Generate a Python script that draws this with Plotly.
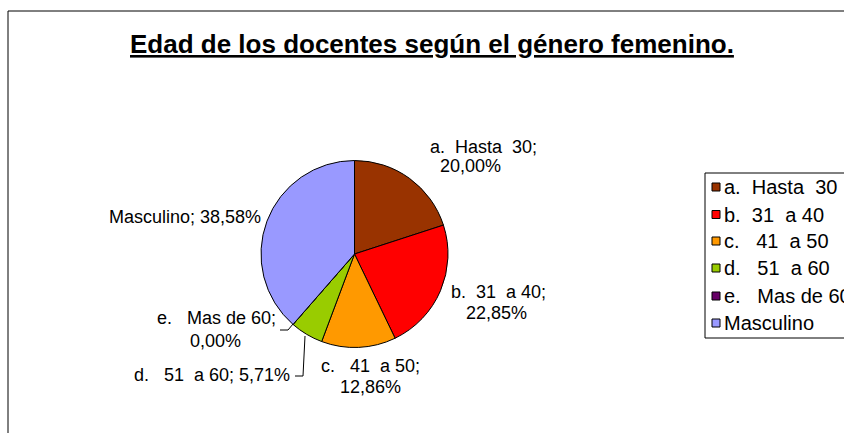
import plotly.graph_objects as go

W, H = 844, 433

# ---- data ----
labels = ["a.\u00a0 Hasta\u00a0 30", "b.\u00a0 31\u00a0 a 40", "c.\u00a0\u00a0 41\u00a0 a 50",
          "d.\u00a0\u00a0 51\u00a0 a 60", "e.\u00a0\u00a0 Mas de 60", "Masculino"]
values = [20.00, 22.85, 12.86, 5.71, 0.00, 38.58]
colors = ["#993300", "#FF0000", "#FF9900", "#99CC00", "#660066", "#9999FF"]
title_text = "Edad de los docentes según el género femenino."

FONT = "Liberation Sans, Arial, sans-serif"


def px(x):
    return x / W


def py(y):
    return 1 - y / H


def pct(v):
    return f"{v:.2f}".replace(".", ",") + "%"


cx, cy, r = 354.5, 254, 93.5

fig = go.Figure()
fig.add_trace(go.Pie(
    labels=labels, values=values, sort=False, direction="clockwise", rotation=0,
    marker=dict(colors=colors, line=dict(color="black", width=1)),
    textinfo="none", showlegend=False,
    domain=dict(x=[px(cx - r), px(cx + r)], y=[py(cy + r), py(cy - r)]),
))

annotations = []
shapes = []

# title
annotations.append(dict(text="<b><u>" + title_text + "</u></b>", x=px(432), y=py(44),
                        xref="paper", yref="paper", showarrow=False, xanchor="center",
                        yanchor="middle", font=dict(family=FONT, size=26, color="black")))

# data labels: (lines, centers)
label_specs = [
    (0, [(labels[0] + ";", 483, 146.5), (pct(values[0]), 470.5, 166)]),
    (1, [(labels[1] + ";", 498.5, 292), (pct(values[1]), 496.5, 313)]),
    (2, [(labels[2] + ";", 370, 366), (pct(values[2]), 370, 387)]),
    (3, [(labels[3] + "; " + pct(values[3]), 211.5, 375)]),
    (4, [(labels[4] + ";", 216.5, 318), (pct(values[4]), 216, 341)]),
    (5, [(labels[5] + "; " + pct(values[5]), 185, 217)]),
]
for i, lines in label_specs:
    for t, x, y in lines:
        annotations.append(dict(text=t, x=px(x), y=py(y), xref="paper", yref="paper",
                                showarrow=False, xanchor="center", yanchor="middle",
                                font=dict(family=FONT, size=18, color="black")))

# leader lines
shapes.append(dict(type="path", xref="paper", yref="paper",
                   path=f"M {px(305)} {py(336)} L {px(303)} {py(376)} L {px(295)} {py(376)}",
                   line=dict(color="black", width=1)))
shapes.append(dict(type="path", xref="paper", yref="paper",
                   path=f"M {px(293)} {py(324)} L {px(288)} {py(330)} L {px(280)} {py(330)}",
                   line=dict(color="black", width=1)))

# outer frame
shapes.append(dict(type="rect", xref="paper", yref="paper", x0=px(8), x1=px(860),
                   y0=py(450), y1=py(11), line=dict(color="black", width=1),
                   fillcolor="rgba(0,0,0,0)", layer="below"))

# legend (box, swatches, texts)
shapes.append(dict(type="rect", xref="paper", yref="paper", x0=px(705), x1=px(860),
                   y0=py(338), y1=py(173), line=dict(color="black", width=1),
                   fillcolor="white"))
rows = [187, 214.5, 241, 268, 296, 323]
for lab, col, ry in zip(labels, colors, rows):
    shapes.append(dict(type="rect", xref="paper", yref="paper", x0=px(712), x1=px(720),
                       y0=py(ry + 4), y1=py(ry - 4), line=dict(color="black", width=1),
                       fillcolor=col))
    annotations.append(dict(text=lab, x=px(722), y=py(ry), xref="paper", yref="paper",
                            showarrow=False, xanchor="left", yanchor="middle",
                            font=dict(family=FONT, size=20, color="black")))

fig.update_layout(
    width=W, height=H, margin=dict(l=0, r=0, t=0, b=0),
    paper_bgcolor="white", plot_bgcolor="white",
    annotations=annotations, shapes=shapes, showlegend=False,
)

fig.write_html("out.html", config={"displayModeBar": False},
               post_script="document.body.style.margin='0';")
